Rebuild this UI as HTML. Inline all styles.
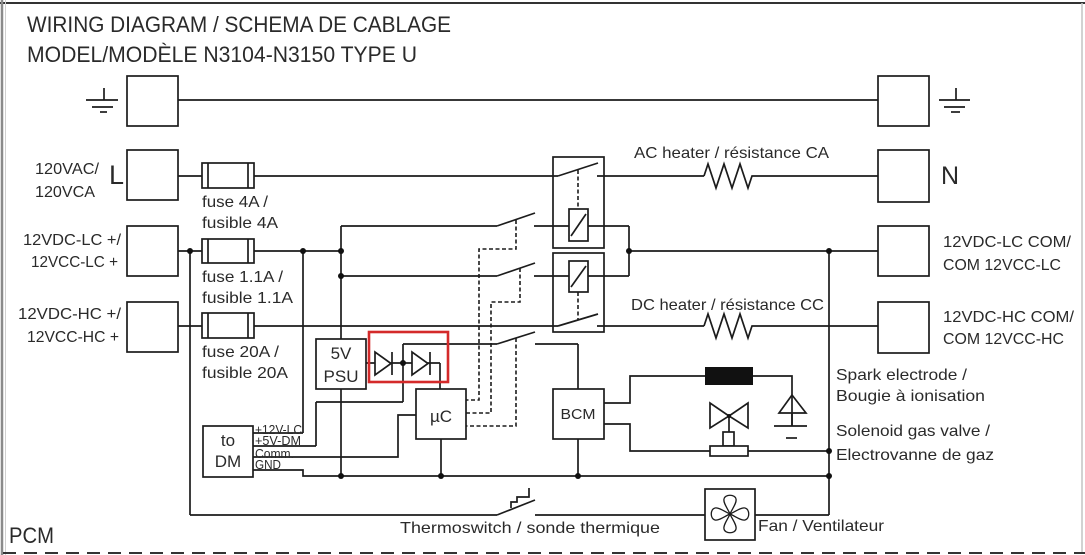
<!DOCTYPE html>
<html>
<head>
<meta charset="utf-8">
<style>
html,body{margin:0;padding:0;background:#fff;}
svg{display:block;}
text{font-family:"Liberation Sans",Arial,sans-serif;fill:#2a2a2a;}
</style>
</head>
<body>
<svg width="1085" height="555" viewBox="0 0 1085 555" xmlns="http://www.w3.org/2000/svg">
<rect x="0" y="0" width="1085" height="555" fill="#fff"/>
<!-- borders -->
<line x1="0" y1="3" x2="1085" y2="3" stroke="#333" stroke-width="2"/>
<line x1="2" y1="0" x2="2" y2="555" stroke="#8a8a8a" stroke-width="2.5"/>
<line x1="5.5" y1="0" x2="5.5" y2="555" stroke="#d0d0d0" stroke-width="1"/>
<line x1="1082" y1="3" x2="1082" y2="553" stroke="#c4c4c4" stroke-width="1.5"/>
<line x1="3" y1="553" x2="1085" y2="553" stroke="#333" stroke-width="2" stroke-dasharray="13 8"/>

<!-- titles -->
<text x="27" y="32" font-size="22" textLength="424" lengthAdjust="spacingAndGlyphs">WIRING DIAGRAM / SCHEMA DE CABLAGE</text>
<text x="27" y="62" font-size="22" textLength="390" lengthAdjust="spacingAndGlyphs">MODEL/MODÈLE N3104-N3150 TYPE U</text>

<g stroke="#1c1c1c" stroke-width="1.7" fill="none">
  <!-- left boxes -->
  <rect x="127" y="76" width="51" height="50"/>
  <rect x="127" y="150" width="51" height="50"/>
  <rect x="127" y="226" width="51" height="50"/>
  <rect x="127" y="302" width="51" height="50"/>
  <!-- right boxes -->
  <rect x="878" y="76" width="51" height="50"/>
  <rect x="878" y="150" width="51" height="52"/>
  <rect x="878" y="226" width="51" height="50"/>
  <rect x="878" y="302" width="51" height="51"/>

  <!-- ground symbols -->
  <line x1="104" y1="88" x2="104" y2="100"/>
  <line x1="86" y1="100" x2="118" y2="100"/>
  <line x1="92" y1="107" x2="113" y2="107"/>
  <line x1="100" y1="112" x2="107" y2="112"/>
  <line x1="956" y1="88" x2="956" y2="100"/>
  <line x1="939" y1="100" x2="970" y2="100"/>
  <line x1="944" y1="107" x2="965" y2="107"/>
  <line x1="951" y1="112" x2="960" y2="112"/>

  <!-- ground wire -->
  <line x1="178" y1="100" x2="878" y2="100"/>

  <!-- L wire -->
  <line x1="178" y1="176" x2="202" y2="176"/>
  <line x1="254" y1="176" x2="558" y2="176"/>
  <line x1="558" y1="176" x2="598" y2="163"/>
  <line x1="597" y1="176" x2="704" y2="176"/>
  <polyline points="704,176 708,164 716,188 724,164 732,188 740,164 748,188 752,176 755,176"/>
  <line x1="755" y1="176" x2="878" y2="176"/>

  <!-- fuses -->
  <rect x="202" y="163" width="52" height="25"/>
  <line x1="208" y1="163" x2="208" y2="188"/>
  <line x1="248" y1="163" x2="248" y2="188"/>
  <rect x="202" y="239" width="52" height="24"/>
  <line x1="208" y1="239" x2="208" y2="263"/>
  <line x1="248" y1="239" x2="248" y2="263"/>
  <rect x="202" y="313" width="52" height="25"/>
  <line x1="208" y1="313" x2="208" y2="338"/>
  <line x1="248" y1="313" x2="248" y2="338"/>

  <!-- LC wire -->
  <line x1="178" y1="251" x2="202" y2="251"/>
  <line x1="254" y1="251" x2="341" y2="251"/>
  <line x1="341" y1="226" x2="341" y2="339"/>
  <!-- switch 1 -->
  <line x1="341" y1="226" x2="497" y2="226"/>
  <line x1="497" y1="226" x2="535" y2="213"/>
  <line x1="534" y1="226" x2="569" y2="226"/>
  <line x1="588" y1="226" x2="629" y2="226"/>
  <!-- switch 2 -->
  <line x1="341" y1="276" x2="497" y2="276"/>
  <line x1="497" y1="276" x2="535" y2="263"/>
  <line x1="534" y1="276" x2="569" y2="276"/>
  <line x1="588" y1="276" x2="629" y2="276"/>
  <line x1="629" y1="226" x2="629" y2="276"/>
  <line x1="629" y1="251" x2="878" y2="251"/>
  <line x1="829" y1="251" x2="829" y2="515"/>

  <!-- relay boxes -->
  <rect x="553" y="157" width="51" height="91"/>
  <rect x="553" y="253" width="51" height="79"/>
  <!-- coils -->
  <rect x="569" y="209" width="19" height="32"/>
  <line x1="571" y1="236" x2="586" y2="214"/>
  <rect x="569" y="261" width="19" height="31"/>
  <line x1="571" y1="287" x2="586" y2="266"/>

  <!-- HC wire -->
  <line x1="178" y1="326" x2="202" y2="326"/>
  <line x1="254" y1="326" x2="558" y2="326"/>
  <line x1="558" y1="326" x2="598" y2="314"/>
  <line x1="597" y1="326" x2="704" y2="326"/>
  <polyline points="704,326 708,314 716,338 724,314 732,338 740,314 748,338 752,326 755,326"/>
  <line x1="755" y1="326" x2="878" y2="326"/>

  <!-- left verticals -->
  <line x1="190" y1="251" x2="190" y2="515"/>
  <line x1="190" y1="515" x2="497" y2="515"/>
  <line x1="497" y1="515" x2="535" y2="500"/>
  <polyline points="529,488 529,497 517,497 517,502 511,502 511,508"/>
  <line x1="535" y1="515" x2="705" y2="515"/>
  <line x1="755" y1="515" x2="829" y2="515"/>

  <line x1="303" y1="251" x2="303" y2="433"/>
  <line x1="303" y1="433" x2="253" y2="433"/>

  <!-- PSU -->
  <rect x="316" y="339" width="50" height="50"/>
  <line x1="366" y1="363" x2="440" y2="363"/>
  <line x1="440" y1="363" x2="440" y2="389"/>
  <line x1="403" y1="344" x2="403" y2="402"/>
  <line x1="403" y1="402" x2="316" y2="402"/>
  <line x1="316" y1="402" x2="316" y2="446"/>
  <line x1="316" y1="446" x2="253" y2="446"/>
  <!-- switch 3 -->
  <line x1="403" y1="344" x2="497" y2="344"/>
  <line x1="497" y1="344" x2="535" y2="332"/>
  <line x1="535" y1="344" x2="578" y2="344"/>
  <line x1="578" y1="344" x2="578" y2="389"/>

  <!-- uC -->
  <rect x="416" y="389" width="50" height="50"/>
  <!-- Comm -->
  <polyline points="253,457 398,457 398,415 416,415"/>
  <!-- GND -->
  <polyline points="253,470 303,470 303,476 829,476"/>
  <line x1="341" y1="389" x2="341" y2="476"/>
  <line x1="441" y1="439" x2="441" y2="476"/>
  <line x1="578" y1="439" x2="578" y2="476"/>

  <!-- DM box -->
  <rect x="203" y="426" width="50" height="51"/>

  <!-- BCM -->
  <rect x="553" y="389" width="51" height="50"/>
  <polyline points="604,403 630,403 630,376 705,376"/>
  <polyline points="753,376 792,376 792,426"/>
  <polyline points="604,424 630,424 630,451 829,451"/>

  <!-- spark electrode -->
  <polygon points="792,395 779,413 806,413" fill="#fff"/>
  <line x1="792" y1="395" x2="792" y2="426"/>
  <line x1="774" y1="426" x2="807" y2="426"/>
  <line x1="786" y1="438" x2="797" y2="438"/>

  <!-- valve -->
  <polygon points="710,403 710,428 729,416" fill="#fff"/>
  <polygon points="748,403 748,428 729,416" fill="#fff"/>
  <line x1="729" y1="416" x2="729" y2="432"/>
  <rect x="723" y="432" width="11" height="14" fill="#fff"/>
  <rect x="710" y="446" width="38" height="10" fill="#fff"/>

  <!-- fan -->
  <rect x="705" y="489" width="50" height="51" fill="#fff"/>
  <g transform="translate(730,514)" stroke-width="1.3">
    <path d="M0,0 C-2,-5 -7,-11 -6,-15 C-5,-20 5,-20 6,-15 C7,-11 2,-5 0,0 Z"/>
    <path d="M0,0 C-2,-5 -7,-11 -6,-15 C-5,-20 5,-20 6,-15 C7,-11 2,-5 0,0 Z" transform="rotate(90)"/>
    <path d="M0,0 C-2,-5 -7,-11 -6,-15 C-5,-20 5,-20 6,-15 C7,-11 2,-5 0,0 Z" transform="rotate(180)"/>
    <path d="M0,0 C-2,-5 -7,-11 -6,-15 C-5,-20 5,-20 6,-15 C7,-11 2,-5 0,0 Z" transform="rotate(270)"/>
  </g>

  <!-- diodes -->
  <polygon points="375,352 375,375 391,363.5" fill="#fff"/>
  <line x1="392" y1="352" x2="392" y2="375"/>
  <polygon points="412,352 412,375 428,363.5" fill="#fff"/>
  <line x1="430" y1="352" x2="430" y2="375"/>
</g>

<!-- dashed mechanical links -->
<g stroke="#1c1c1c" stroke-width="1.6" fill="none" stroke-dasharray="4 2.5">
  <line x1="578" y1="170" x2="578" y2="209"/>
  <line x1="578" y1="292" x2="578" y2="320"/>
  <polyline points="516,220 516,249 479,249 479,400 466,400"/>
  <polyline points="520,268 520,302 491,302 491,413 466,413"/>
  <polyline points="516,338 516,426 466,426"/>
</g>

<!-- black spark resistor -->
<rect x="705" y="367" width="48" height="18" fill="#111"/>

<!-- dots -->
<g fill="#111">
  <circle cx="190" cy="251" r="3"/>
  <circle cx="303" cy="251" r="3"/>
  <circle cx="341" cy="251" r="3"/>
  <circle cx="341" cy="276" r="3"/>
  <circle cx="629" cy="251" r="3"/>
  <circle cx="829" cy="251" r="3"/>
  <circle cx="403" cy="363" r="3"/>
  <circle cx="341" cy="476" r="3"/>
  <circle cx="441" cy="476" r="3"/>
  <circle cx="578" cy="476" r="3"/>
  <circle cx="829" cy="476" r="3"/>
  <circle cx="829" cy="451" r="3"/>
  <circle cx="729" cy="416" r="2"/>
</g>

<!-- red highlight -->
<rect x="369" y="332" width="79" height="50" fill="none" stroke="#d42a2a" stroke-width="2.6"/>

<!-- labels -->
<g font-size="16">
  <text x="35" y="174" textLength="64" lengthAdjust="spacingAndGlyphs">120VAC/</text>
  <text x="35" y="197" textLength="60" lengthAdjust="spacingAndGlyphs">120VCA</text>
  <text x="202" y="207" textLength="66" lengthAdjust="spacingAndGlyphs">fuse 4A /</text>
  <text x="202" y="228" textLength="76" lengthAdjust="spacingAndGlyphs">fusible 4A</text>
  <text x="23" y="245" textLength="98" lengthAdjust="spacingAndGlyphs">12VDC-LC +/</text>
  <text x="31" y="267" textLength="87" lengthAdjust="spacingAndGlyphs">12VCC-LC +</text>
  <text x="202" y="282" textLength="81" lengthAdjust="spacingAndGlyphs">fuse 1.1A /</text>
  <text x="202" y="303" textLength="91" lengthAdjust="spacingAndGlyphs">fusible 1.1A</text>
  <text x="18" y="319" textLength="103" lengthAdjust="spacingAndGlyphs">12VDC-HC +/</text>
  <text x="27" y="342" textLength="92" lengthAdjust="spacingAndGlyphs">12VCC-HC +</text>
  <text x="202" y="357" textLength="77" lengthAdjust="spacingAndGlyphs">fuse 20A /</text>
  <text x="202" y="378" textLength="86" lengthAdjust="spacingAndGlyphs">fusible 20A</text>
  <text x="634" y="158" textLength="195" lengthAdjust="spacingAndGlyphs">AC heater / résistance CA</text>
  <text x="631" y="310" textLength="193" lengthAdjust="spacingAndGlyphs">DC heater / résistance CC</text>
  <text x="943" y="247" textLength="128" lengthAdjust="spacingAndGlyphs">12VDC-LC COM/</text>
  <text x="943" y="270" textLength="118" lengthAdjust="spacingAndGlyphs">COM 12VCC-LC</text>
  <text x="943" y="322" textLength="131" lengthAdjust="spacingAndGlyphs">12VDC-HC COM/</text>
  <text x="943" y="344" textLength="121" lengthAdjust="spacingAndGlyphs">COM 12VCC-HC</text>
  <text x="836" y="380" textLength="131" lengthAdjust="spacingAndGlyphs">Spark electrode /</text>
  <text x="836" y="401" textLength="149" lengthAdjust="spacingAndGlyphs">Bougie à ionisation</text>
  <text x="836" y="436" textLength="154" lengthAdjust="spacingAndGlyphs">Solenoid gas valve /</text>
  <text x="836" y="460" textLength="158" lengthAdjust="spacingAndGlyphs">Electrovanne de gaz</text>
  <text x="400" y="533" textLength="260" lengthAdjust="spacingAndGlyphs">Thermoswitch / sonde thermique</text>
  <text x="758" y="531" textLength="126" lengthAdjust="spacingAndGlyphs">Fan / Ventilateur</text>
</g>
<text x="109" y="184" font-size="27">L</text>
<text x="941" y="184" font-size="25">N</text>
<text x="9" y="543" font-size="22" textLength="45" lengthAdjust="spacingAndGlyphs">PCM</text>

<g font-size="17" text-anchor="middle">
  <text x="341" y="359">5V</text>
  <text x="341" y="382">PSU</text>
  <text x="441" y="422">µC</text>
  <text x="228" y="446">to</text>
  <text x="228" y="467">DM</text>
</g>
<text x="578" y="419" font-size="15" text-anchor="middle" textLength="35" lengthAdjust="spacingAndGlyphs">BCM</text>

<g font-size="12.5">
  <text x="255" y="434" textLength="47" lengthAdjust="spacingAndGlyphs">+12V-LC</text>
  <text x="255" y="445" textLength="46" lengthAdjust="spacingAndGlyphs">+5V-DM</text>
  <text x="255" y="458" textLength="39" lengthAdjust="spacingAndGlyphs">Comm.</text>
  <text x="255" y="469" textLength="26" lengthAdjust="spacingAndGlyphs">GND</text>
</g>
</svg>
</body>
</html>
